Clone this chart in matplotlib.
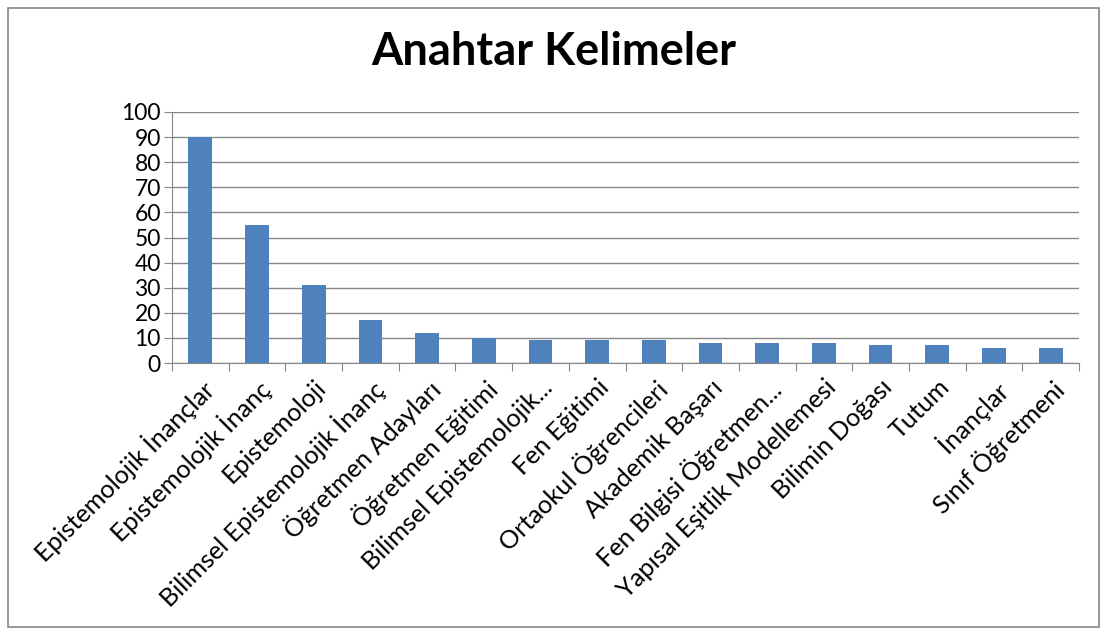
import matplotlib
matplotlib.use("Agg")
import matplotlib.pyplot as plt
from matplotlib.patches import Rectangle

categories = ["Epistemolojik İnançlar", "Epistemolojik İnanç", "Epistemoloji",
              "Bilimsel Epistemolojik İnanç", "Öğretmen Adayları", "Öğretmen Eğitimi",
              "Bilimsel Epistemolojik...", "Fen Eğitimi", "Ortaokul Öğrencileri",
              "Akademik Başarı", "Fen Bilgisi Öğretmen...", "Yapısal Eşitlik Modellemesi",
              "Bilimin Doğası", "Tutum", "İnançlar", "Sınıf Öğretmeni"]
values = [90, 55, 31, 17, 12, 10, 9, 9, 9, 8, 8, 8, 7, 7, 6, 6]
yticks = list(range(0, 101, 10))

plt.rcParams['font.family'] = ['Lato', 'DejaVu Sans']

fig = plt.figure(figsize=(11.07, 6.35), dpi=100)
fig.patches.append(Rectangle((8/1107, 8/635), 1091/1107, 619/635, transform=fig.transFigure,
                             fill=False, edgecolor='#868686', linewidth=1.2))
ax = fig.add_axes([172/1107, 1-363/635, (1079-172)/1107, (363-112)/635])

x = list(range(len(categories)))
ax.bar(x, values, width=0.42, color='#4F81BD', zorder=3)
ax.set_xlim(-0.5, len(categories)-0.5)
ax.set_ylim(0, 100)
ax.set_yticks(yticks)
ax.set_yticklabels([str(t) for t in yticks], fontsize=16.5)
ax.yaxis.grid(True, color='#868686', linewidth=1.0, zorder=0)
for s in ['top', 'right']:
    ax.spines[s].set_visible(False)
ax.spines['left'].set_color('#868686')
ax.spines['bottom'].set_color('#868686')
ax.tick_params(axis='y', direction='out', length=6, color='#868686', pad=2)
# category boundary ticks
ax.set_xticks([i - 0.5 for i in range(len(categories)+1)])
ax.set_xticklabels([])
ax.tick_params(axis='x', direction='out', length=6, color='#868686')
ax.set_xticks(x, minor=True)
ax.set_xticklabels(categories, minor=True, rotation=45, ha='right', va='top',
                   rotation_mode='anchor', fontsize=18.2)
ax.tick_params(axis='x', which='minor', length=0, pad=9)

fig.text(0.5, 1-52/635, "Anahtar Kelimeler", ha='center', va='center',
         fontsize=32.5, fontweight='bold')

fig.savefig("out.png", dpi=100)
